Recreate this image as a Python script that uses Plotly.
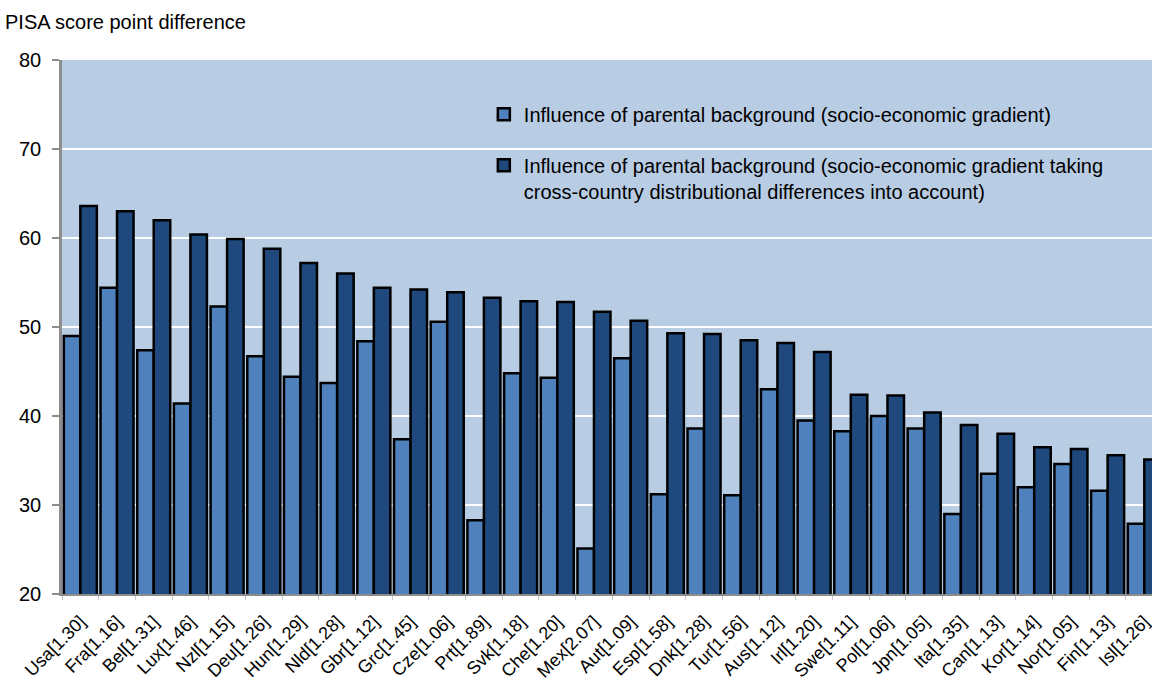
import plotly.graph_objects as go

countries = ["Usa[1.30]", "Fra[1.16]", "Bel[1.31]", "Lux[1.46]", "Nzl[1.15]", "Deu[1.26]",
             "Hun[1.29]", "Nld[1.28]", "Gbr[1.12]", "Grc[1.45]", "Cze[1.06]", "Prt[1.89]",
             "Svk[1.18]", "Che[1.20]", "Mex[2.07]", "Aut[1.09]", "Esp[1.58]", "Dnk[1.28]",
             "Tur[1.56]", "Aus[1.12]", "Irl[1.20]", "Swe[1.11]", "Pol[1.06]", "Jpn[1.05]",
             "Ita[1.35]", "Can[1.13]", "Kor[1.14]", "Nor[1.05]", "Fin[1.13]", "Isl[1.26]"]

gradient = [49.0, 54.4, 47.4, 41.4, 52.3, 46.7, 44.4, 43.7, 48.4, 37.4,
            50.6, 28.3, 44.8, 44.3, 25.1, 46.5, 31.2, 38.6, 31.1, 43.0,
            39.5, 38.3, 40.0, 38.6, 29.0, 33.5, 32.0, 34.6, 31.6, 27.9]

gradient_adj = [63.6, 63.0, 62.0, 60.4, 59.9, 58.8, 57.2, 56.0, 54.4, 54.2,
                53.9, 53.3, 52.9, 52.8, 51.7, 50.7, 49.3, 49.2, 48.5, 48.2,
                47.2, 42.4, 42.3, 40.4, 39.0, 38.0, 36.5, 36.3, 35.6, 35.1]

name1 = "Influence of parental background (socio-economic gradient)"
name2 = ("Influence of parental background (socio-economic gradient taking<br>"
         "cross-country distributional differences into account)")

FONT = "Liberation Sans, Arial, sans-serif"

fig = go.Figure()
fig.add_trace(go.Bar(x=countries, y=gradient, name=name1, legendgroup="a",
                     marker=dict(color="#4F81BD", line=dict(color="black", width=2.5))))
fig.add_trace(go.Bar(x=countries, y=gradient_adj, name=name2, legendgroup="b",
                     marker=dict(color="#1F497D", line=dict(color="black", width=2.5))))

fig.update_layout(
    width=1152, height=688,
    margin=dict(l=62, r=0, t=60, b=94),
    paper_bgcolor="white",
    plot_bgcolor="#B8CCE4",
    barmode="group",
    bargap=0.1,
    bargroupgap=0.0,
    font=dict(family=FONT, size=20, color="black"),
    showlegend=True,
    legend=dict(x=0.387, y=0.935, xanchor="left", yanchor="top", valign="top",
                bgcolor="rgba(0,0,0,0)", tracegroupgap=22,
                font=dict(family=FONT, size=20, color="black")),
    xaxis=dict(range=[-0.5, 29.21], tickangle=-45, showgrid=False, automargin=False,
               showline=True, linecolor="#8c8c8c", linewidth=2,
               ticks="outside", tickson="boundaries", ticklen=4, tickcolor="#c8c8c8",
               ticklabelstandoff=8,
               tickfont=dict(family=FONT, size=18, color="black")),
    yaxis=dict(range=[20, 80], tickvals=[20, 30, 40, 50, 60, 70, 80], automargin=False,
               showgrid=True, gridcolor="white", gridwidth=2,
               showline=True, linecolor="#8c8c8c", linewidth=2.5,
               ticks="outside", ticklen=7, tickwidth=2, tickcolor="#8c8c8c",
               ticklabelstandoff=7,
               tickfont=dict(family=FONT, size=20, color="black"),
               zeroline=False),
    annotations=[dict(text="PISA score point difference", xref="paper", yref="paper",
                      x=(3 - 62) / 1090, y=1 + 38 / 534, xanchor="left", yanchor="middle",
                      showarrow=False, font=dict(family=FONT, size=20, color="black"))],
)

fig.write_html("out.html", config={"displayModeBar": False},
               post_script="document.body.style.margin='0';document.body.style.padding='0';")
